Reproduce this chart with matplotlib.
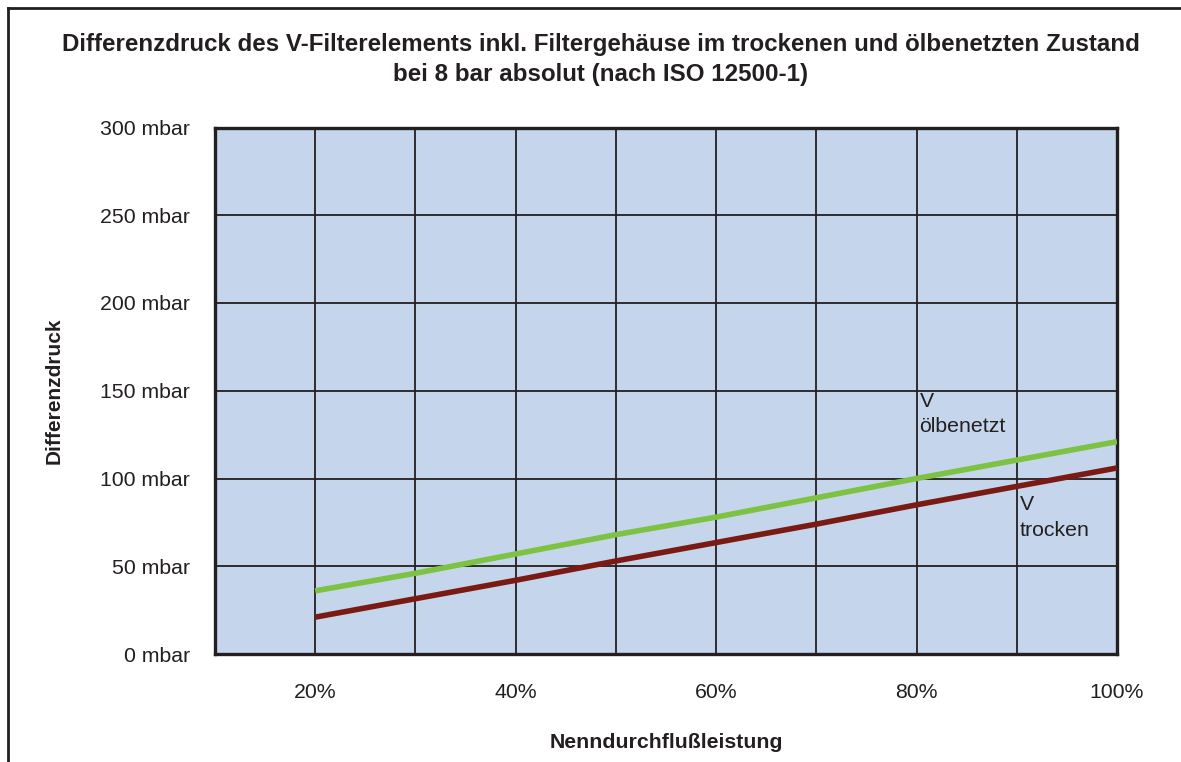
import matplotlib.pyplot as plt
from matplotlib.lines import Line2D

plt.rcParams['font.family'] = ['Liberation Sans', 'DejaVu Sans']

# Nenndurchflussleistung in %
flow = [20, 30, 40, 50, 60, 70, 80, 90, 100]
# Differenzdruck in mbar
oelbenetzt = [36, 46, 57, 68, 78, 89, 100, 110.5, 121]
trocken = [21, 31.5, 42, 53, 63.5, 74, 85, 95.5, 106]

x_ticks = [10, 20, 30, 40, 50, 60, 70, 80, 90, 100]
x_labels = ['', '20%', '', '40%', '', '60%', '', '80%', '', '100%']
y_ticks = [0, 50, 100, 150, 200, 250, 300]
y_labels = ['%d mbar' % v for v in y_ticks]

txt = '#231f20'

fig = plt.figure(figsize=(11.81, 7.62), dpi=100)
ax = fig.add_axes([215 / 1181, 1 - 654 / 762, (1117 - 215) / 1181, (654 - 127.5) / 762])
ax.set_facecolor('#c5d5ec')

ax.plot(flow, oelbenetzt, color='#7dc242', lw=4, solid_capstyle='butt', zorder=3)
ax.plot(flow, trocken, color='#7b1a13', lw=4, solid_capstyle='butt', zorder=3)

ax.set_xlim(10, 100)
ax.set_ylim(0, 300)
ax.set_xticks(x_ticks)
ax.set_xticklabels(x_labels)
ax.set_yticks(y_ticks)
ax.set_yticklabels(y_labels)
ax.tick_params(length=0, labelsize=15.3, colors=txt)
ax.tick_params(axis='x', pad=21)
ax.tick_params(axis='y', pad=18)
ax.grid(True, color='#231f20', lw=1.3, zorder=1)
ax.set_axisbelow(True)
for s in ax.spines.values():
    s.set_linewidth(2.4)
    s.set_color(txt)

ax.text(80.3, 149.5, 'V\nölbenetzt', fontsize=15.3, color=txt, va='top', ha='left',
        linespacing=1.45)
ax.text(90.3, 90.5, 'V\ntrocken', fontsize=15.3, color=txt, va='top', ha='left',
        linespacing=1.45)

ax.set_xlabel('Nenndurchflußleistung', fontsize=15.3, fontweight='bold', color=txt,
              labelpad=22)
ax.set_ylabel('Differenzdruck', fontsize=15, fontweight='bold', color=txt,
              labelpad=26)

fig.text(601 / 1181, 1 - 33 / 762,
         'Differenzdruck des V-Filterelements inkl. Filtergehäuse im trockenen und ölbenetzten Zustand\n'
         'bei 8 bar absolut (nach ISO 12500-1)',
         ha='center', va='top', fontsize=17.4, fontweight='bold', color=txt,
         linespacing=1.4)

# outer frame (left and top edges visible)
fig.add_artist(Line2D([8 / 1181, 8 / 1181], [0, 1 - 8 / 762], color=txt, lw=2,
                      transform=fig.transFigure))
fig.add_artist(Line2D([8 / 1181, 1], [1 - 8 / 762, 1 - 8 / 762], color=txt, lw=2,
                      transform=fig.transFigure))

fig.savefig('out.png', dpi=100)
